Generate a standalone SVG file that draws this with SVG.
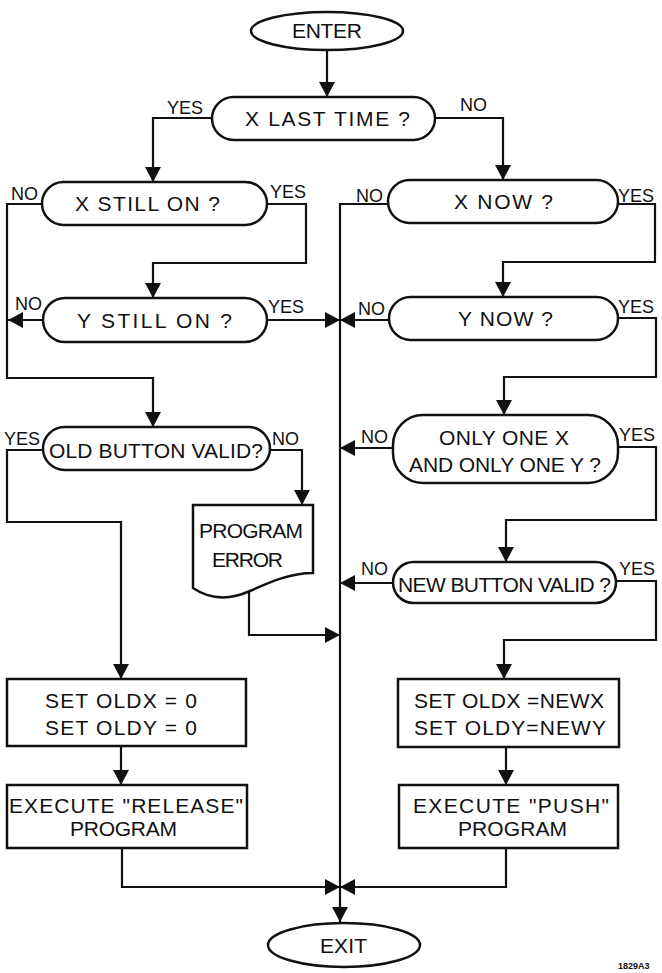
<svg xmlns="http://www.w3.org/2000/svg" width="662" height="973" viewBox="0 0 662 973">
<style>
.s{fill:none;stroke:#111;stroke-width:2.5}
.c{fill:none;stroke:#111;stroke-width:2.2}
.t{font-family:"Liberation Sans",Arial,sans-serif;font-size:21px;fill:#111}
.l{font-family:"Liberation Sans",Arial,sans-serif;font-size:18px;fill:#111}
.m{font-family:"Liberation Sans",Arial,sans-serif;font-size:9px;font-weight:bold;fill:#111}
</style>
<defs>
<marker id="a" viewBox="0 0 15 16" refX="15" refY="8" markerWidth="15" markerHeight="16" markerUnits="userSpaceOnUse" orient="auto">
<path d="M0,0 L15,8 L0,16 Z" fill="#111"/>
</marker>
</defs>
<rect width="662" height="973" fill="#fff"/>
<g id="connectors">
<path class="c" d="M327,50 V97" marker-end="url(#a)"/>
<path class="c" d="M212,118 H153 V182" marker-end="url(#a)"/>
<path class="c" d="M435,118 H503 V180" marker-end="url(#a)"/>
<path class="c" d="M42,204 H7 V378 H153 V427" marker-end="url(#a)"/>
<path class="c" d="M267,204 H306 V263 H153 V298" marker-end="url(#a)"/>
<path class="c" d="M43,320 H8" marker-end="url(#a)"/>
<path class="c" d="M267,320 H340" marker-end="url(#a)"/>
<path class="c" d="M388,204 H340 V922" marker-end="url(#a)"/>
<path class="c" d="M618,204 H655 V262 H503 V297" marker-end="url(#a)"/>
<path class="c" d="M389,320 H340" marker-end="url(#a)"/>
<path class="c" d="M618,318 H656 V377 H504 V415" marker-end="url(#a)"/>
<path class="c" d="M43,450 H7 V522 H121 V679" marker-end="url(#a)"/>
<path class="c" d="M270,450 H302 V505" marker-end="url(#a)"/>
<path class="c" d="M249,592 V635 H340" marker-end="url(#a)"/>
<path class="c" d="M393,448 H340" marker-end="url(#a)"/>
<path class="c" d="M618,447 H656 V520 H506 V562" marker-end="url(#a)"/>
<path class="c" d="M393,583 H340" marker-end="url(#a)"/>
<path class="c" d="M616,581 H656 V640 H504 V679" marker-end="url(#a)"/>
<path class="c" d="M121,746 V785" marker-end="url(#a)"/>
<path class="c" d="M506,747 V785" marker-end="url(#a)"/>
<path class="c" d="M122,848 V887 H340" marker-end="url(#a)"/>
<path class="c" d="M506,848 V887 H340" marker-end="url(#a)"/>
</g>
<g id="enter">
<ellipse class="s" cx="327" cy="31" rx="76" ry="19"/>
<text class="t" x="292" y="38" textLength="70" lengthAdjust="spacing">ENTER</text>
</g>
<g id="x-last-time">
<rect class="s" x="212" y="97" width="223" height="43" rx="21.5"/>
<text class="t" x="245" y="126" textLength="165" lengthAdjust="spacing">X LAST TIME ?</text>
<text class="l" x="167" y="114">YES</text>
<text class="l" x="460" y="111">NO</text>
</g>
<g id="x-still-on">
<rect class="s" x="42" y="182" width="225" height="43" rx="21.5"/>
<text class="t" x="75" y="211" textLength="145" lengthAdjust="spacing">X STILL ON ?</text>
<text class="l" x="11" y="200">NO</text>
<text class="l" x="270" y="198">YES</text>
</g>
<g id="x-now">
<rect class="s" x="388" y="180" width="230" height="43" rx="21.5"/>
<text class="t" x="454" y="209" textLength="99" lengthAdjust="spacing">X NOW ?</text>
<text class="l" x="356" y="202">NO</text>
<text class="l" x="618" y="202">YES</text>
</g>
<g id="y-still-on">
<rect class="s" x="43" y="298" width="224" height="44" rx="22"/>
<text class="t" x="77" y="328" textLength="155" lengthAdjust="spacing">Y STILL ON ?</text>
<text class="l" x="15" y="310">NO</text>
<text class="l" x="268" y="313">YES</text>
</g>
<g id="y-now">
<rect class="s" x="389" y="297" width="229" height="43" rx="21.5"/>
<text class="t" x="458" y="326" textLength="95" lengthAdjust="spacing">Y NOW ?</text>
<text class="l" x="358" y="315">NO</text>
<text class="l" x="618" y="313">YES</text>
</g>
<g id="old-button-valid">
<rect class="s" x="43" y="427" width="227" height="43" rx="21.5"/>
<text class="t" x="49" y="458" textLength="214" lengthAdjust="spacing">OLD BUTTON VALID?</text>
<text class="l" x="4" y="445">YES</text>
<text class="l" x="272" y="445">NO</text>
</g>
<g id="only-one">
<rect class="s" x="393" y="415" width="225" height="68" rx="30"/>
<text class="t" x="439" y="445" textLength="130" lengthAdjust="spacing">ONLY ONE X</text>
<text class="t" x="409" y="472" textLength="192" lengthAdjust="spacing">AND ONLY ONE Y ?</text>
<text class="l" x="361" y="443">NO</text>
<text class="l" x="619" y="441">YES</text>
</g>
<g id="program-error">
<path class="s" d="M193,505 H313 V573 C290,573 270,582 250,591 C232,599 212,601 193,588 Z"/>
<text class="t" x="199" y="538" textLength="104" lengthAdjust="spacing">PROGRAM</text>
<text class="t" x="212" y="567" textLength="71" lengthAdjust="spacing">ERROR</text>
</g>
<g id="new-button-valid">
<rect class="s" x="393" y="562" width="223" height="41" rx="20.5"/>
<text class="t" x="398" y="592" textLength="213" lengthAdjust="spacing">NEW BUTTON VALID ?</text>
<text class="l" x="361" y="575">NO</text>
<text class="l" x="619" y="575">YES</text>
</g>
<g id="set-old-zero">
<rect class="s" x="7" y="679" width="239" height="67"/>
<text class="t" x="45" y="708" textLength="152" lengthAdjust="spacing">SET OLDX = 0</text>
<text class="t" x="45" y="735" textLength="152" lengthAdjust="spacing">SET OLDY = 0</text>
</g>
<g id="execute-release">
<rect class="s" x="7" y="785" width="240" height="63"/>
<text class="t" x="9" y="813" textLength="234" lengthAdjust="spacing">EXECUTE "RELEASE"</text>
<text class="t" x="70" y="836" textLength="107" lengthAdjust="spacing">PROGRAM</text>
</g>
<g id="set-old-new">
<rect class="s" x="398" y="679" width="221" height="68"/>
<text class="t" x="414" y="708" textLength="190" lengthAdjust="spacing">SET OLDX =NEWX</text>
<text class="t" x="414" y="735" textLength="192" lengthAdjust="spacing">SET OLDY=NEWY</text>
</g>
<g id="execute-push">
<rect class="s" x="399" y="785" width="219" height="63"/>
<text class="t" x="413" y="813" textLength="196" lengthAdjust="spacing">EXECUTE "PUSH"</text>
<text class="t" x="458" y="836" textLength="109" lengthAdjust="spacing">PROGRAM</text>
</g>
<g id="exit">
<ellipse class="s" cx="344" cy="945" rx="76" ry="22"/>
<text class="t" x="320" y="953" textLength="47" lengthAdjust="spacing">EXIT</text>
</g>
<text class="m" x="618" y="969">1829A3</text>
</svg>
